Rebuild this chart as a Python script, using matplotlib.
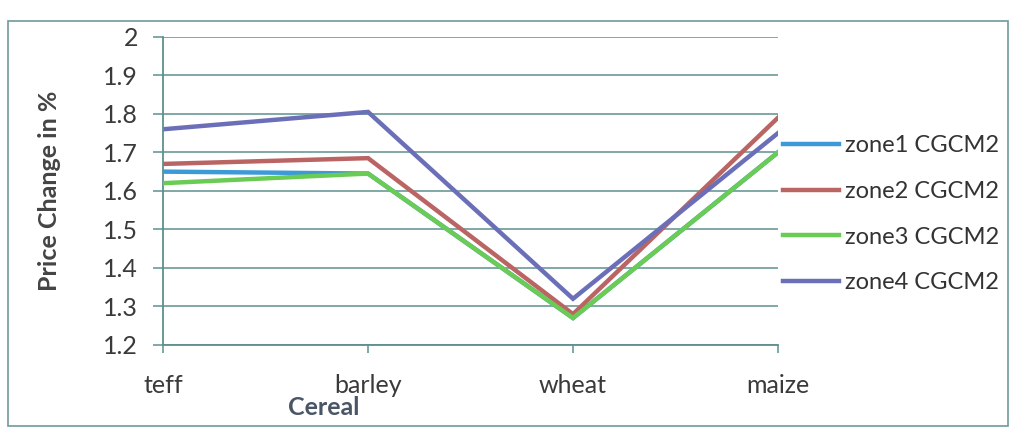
import matplotlib.pyplot as plt
import matplotlib.patches as mpatches
import numpy as np

cereals = ['teff', 'barley', 'wheat', 'maize']
zone1 = [1.65, 1.645, 1.27, 1.70]
zone2 = [1.67, 1.685, 1.28, 1.79]
zone3 = [1.62, 1.645, 1.27, 1.70]
zone4 = [1.76, 1.805, 1.32, 1.75]
series_names = ['zone1 CGCM2', 'zone2 CGCM2', 'zone3 CGCM2', 'zone4 CGCM2']
colors = ['#3d9ad8', '#bb6464', '#6acb55', '#6b6fb8']

plt.rcParams['font.family'] = ['Lato', 'DejaVu Sans']

fig = plt.figure(figsize=(10.13, 4.28), dpi=100)
ax = fig.add_axes([0.161, 0.194, 0.607, 0.72])

grid_col = '#5f8f8f'
x_ind = np.arange(len(cereals))
for vals, c, name in zip([zone1, zone2, zone3, zone4], colors, series_names):
    ax.plot(x_ind, vals, color=c, lw=3.2, label=name, solid_joinstyle='miter')
# green on top of blue in the scan
ax.lines[2].set_zorder(3)

ax.set_xlim(0, 3)
ax.set_ylim(1.2, 2.0)
ax.set_yticks(np.arange(1.2, 2.01, 0.1))
ax.set_yticklabels(['1.2', '1.3', '1.4', '1.5', '1.6', '1.7', '1.8', '1.9', '2'])
ax.set_xticks(x_ind)
ax.set_xticklabels(cereals)
ax.grid(axis='y', color=grid_col, lw=1.1)
ax.set_axisbelow(True)
for s in ['top', 'right']:
    ax.spines[s].set_visible(False)
for s in ['left', 'bottom']:
    ax.spines[s].set_color(grid_col)
    ax.spines[s].set_linewidth(1.3)
ax.tick_params(axis='y', colors=grid_col, length=7, width=1.1, labelcolor='#3a3a3a', labelsize=18, pad=11)
ax.tick_params(axis='x', colors=grid_col, length=6, width=1.1, labelcolor='#3a3a3a', labelsize=18, pad=15)

ax.set_ylabel('Price Change in %', fontsize=18, fontweight='bold', color='#444444', labelpad=30)
fig.text(0.284, 0.03, 'Cereal', fontsize=18, fontweight='bold', color='#4a5666')

ax.legend(loc='center left', bbox_to_anchor=(1.0, 0.424), borderaxespad=0.0, borderpad=0.2,
          frameon=False, fontsize=17, handlelength=2.4, handletextpad=0.25, labelspacing=1.05,
          labelcolor='#333333')

fig.patches.append(mpatches.Rectangle((0.008, 0.005), 0.987, 0.945, transform=fig.transFigure,
                                      fill=False, edgecolor='#6f9a9a', lw=1.2))

fig.savefig('out.png', dpi=100)
